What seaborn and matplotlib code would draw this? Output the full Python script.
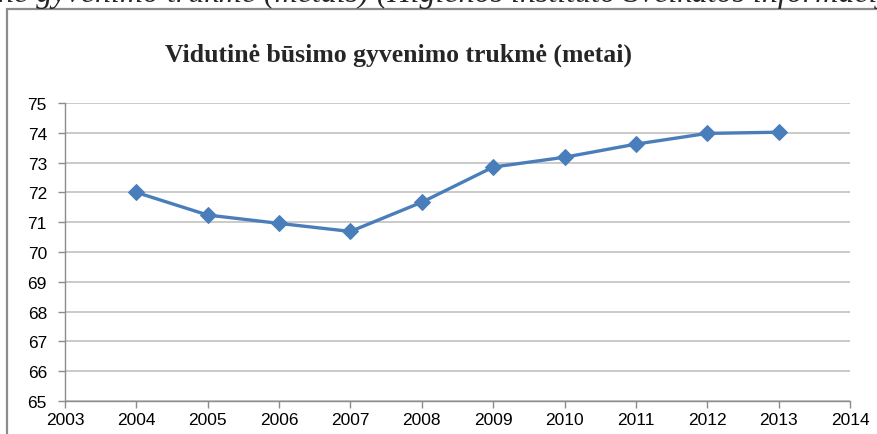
import pandas as pd
import seaborn as sns
import matplotlib.pyplot as plt
from matplotlib.patches import Rectangle

# values
years = [2004, 2005, 2006, 2007, 2008, 2009, 2010, 2011, 2012, 2013]
life_expectancy = [72.0, 71.24, 70.96, 70.69, 71.67, 72.85, 73.18, 73.62, 73.98, 74.02]
x_ticks = list(range(2003, 2015))
y_ticks = list(range(65, 76))

TITLE = "Vidutinė būsimo gyvenimo trukmė (metai)"
CAPTION = "ne gyvenimo trukmė (metais) (Higienos instituto Sveikatos informacijos centro duomenys)"

LINE_COLOR = "#4A7EBB"
GRID_COLOR = "#BCBCBC"
AXIS_COLOR = "#8C8C8C"


def plot_chart():
    df = pd.DataFrame({"year": years, "value": life_expectancy})

    sns.set_style("white")
    plt.rcParams["font.family"] = ["Liberation Sans", "DejaVu Sans"]

    fig = plt.figure(figsize=(8.78, 4.35), dpi=100)
    ax = fig.add_axes([65 / 878, 1 - 402 / 435, (850 - 65) / 878, (402 - 104) / 435])

    sns.lineplot(
        data=df,
        x="year",
        y="value",
        ax=ax,
        color=LINE_COLOR,
        linewidth=2.4,
        marker="D",
        markersize=8,
        markeredgecolor=LINE_COLOR,
    )

    ax.set_xlim(2003, 2014)
    ax.set_ylim(65, 75)
    ax.set_xticks(x_ticks)
    ax.set_yticks(y_ticks)
    ax.set_xlabel("")
    ax.set_ylabel("")

    ax.grid(axis="y", color=GRID_COLOR, linewidth=1.1)
    ax.grid(axis="x", visible=False)
    ax.set_axisbelow(True)

    for side in ["top", "right"]:
        ax.spines[side].set_visible(False)
    for side in ["left", "bottom"]:
        ax.spines[side].set_color(AXIS_COLOR)
        ax.spines[side].set_linewidth(1.0)

    ax.tick_params(
        axis="both",
        direction="out",
        length=5,
        width=1.0,
        color=AXIS_COLOR,
        labelsize=12.5,
        labelcolor="black",
        left=True,
        bottom=True,
    )
    ax.tick_params(axis="x", pad=3)
    ax.tick_params(axis="y", pad=8)

    # chart frame (right and bottom edges run off the picture)
    fig.patches.append(
        Rectangle(
            (7 / 878, -0.1),
            1.0,
            1 - 10 / 435 + 0.1,
            transform=fig.transFigure,
            fill=False,
            edgecolor=AXIS_COLOR,
            linewidth=1.6,
            zorder=0,
        )
    )

    fig.text(
        399 / 878,
        1 - 62 / 435,
        TITLE,
        ha="center",
        va="baseline",
        fontsize=18.5,
        fontweight="bold",
        family=["Liberation Serif", "DejaVu Serif"],
    )

    # caption from the surrounding document, cut off at the top edge
    fig.text(
        -2 / 878,
        1 - 2 / 435,
        CAPTION,
        ha="left",
        va="baseline",
        fontsize=23,
        fontstyle="italic",
        family=["Liberation Serif", "DejaVu Serif"],
    )

    fig.savefig("out.png", dpi=100)


if __name__ == "__main__":
    plot_chart()
